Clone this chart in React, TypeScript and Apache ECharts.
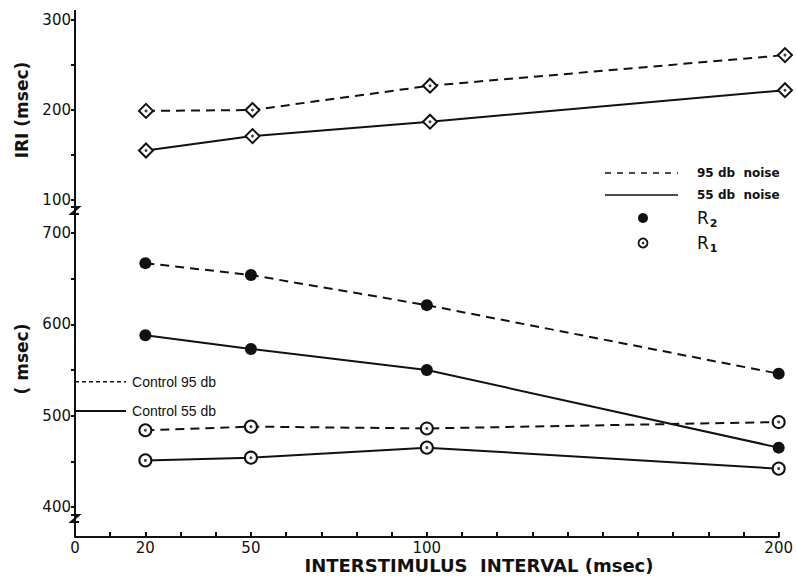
import React, { useEffect, useRef } from "react";
import * as echarts from "echarts";

// ---- data ----
const intervals = [20, 50, 100, 200];
const iri95 = [199, 200, 227, 261];
const iri55 = [155, 171, 187, 222];
const r2Noise95 = [667, 654, 621, 546];
const r2Noise55 = [588, 573, 550, 465];
const r1Noise95 = [484, 488, 486, 493];
const r1Noise55 = [451, 454, 465, 442];
const control95 = 537;
const control55 = 505;
const xTickLabels = [0, 20, 50, 100, 200];
const topTickLabels = [100, 200, 300];
const bottomTickLabels = [400, 500, 600, 700];

const FONT = "DejaVu Sans";
const INK = "#111";

function pts(values: number[]) {
  return intervals.map((x, i) => [x, values[i]]);
}

function dataSeries(
  name: string,
  values: number[],
  dashed: boolean,
  symbol: string,
  filled: boolean,
  grid: number
): any[] {
  const size = symbol === "diamond" ? 14 : 12;
  const out: any[] = [
    {
      name,
      type: "line",
      xAxisIndex: grid,
      yAxisIndex: grid,
      data: pts(values),
      symbol,
      symbolSize: size,
      showAllSymbol: true,
      z: 3,
      lineStyle: { color: INK, width: 2, type: dashed ? [9, 6] : "solid" },
      itemStyle: {
        color: filled ? INK : "#fff",
        borderColor: INK,
        borderWidth: filled ? 0 : 2,
        opacity: 1,
      },
    },
  ];
  if (!filled) {
    out.push({
      name: name + " dot",
      type: "scatter",
      xAxisIndex: grid,
      yAxisIndex: grid,
      data: pts(values),
      symbol: "circle",
      symbolSize: 3,
      z: 4,
      itemStyle: { color: INK },
    });
  }
  return out;
}

function controlSeries(name: string, value: number, dashed: boolean): any {
  return {
    name,
    type: "line",
    xAxisIndex: 1,
    yAxisIndex: 1,
    data: [
      [0, value],
      [14.5, value],
    ],
    symbol: "none",
    z: 2,
    lineStyle: { color: INK, width: dashed ? 1.5 : 2, type: dashed ? [4, 3] : "solid" },
    endLabel: {
      show: true,
      formatter: name,
      distance: 6,
      color: INK,
      fontFamily: "Liberation Sans",
      fontSize: 14,
    },
  };
}

export default function App() {
  const ref = useRef<HTMLDivElement>(null);
  useEffect(() => {
    if (!ref.current) return;
    const chart = echarts.init(ref.current, null, { renderer: "svg" });
    const axisLabelStyle = { color: INK, fontFamily: FONT, fontSize: 15 };
    const option: any = {
      animation: false,
      backgroundColor: "#fff",
      title: {
        text: "INTERSTIMULUS  INTERVAL (msec)",
        left: 479,
        top: 556,
        padding: 0,
        textAlign: "center",
        textStyle: {
          color: INK,
          fontFamily: FONT,
          fontWeight: "bold",
          fontSize: 18,
          lineHeight: 19,
        },
      },
      grid: [
        { left: 75, width: 710, top: 20, height: 180 },
        { left: 75, width: 710, top: 233, height: 274 },
      ],
      xAxis: [
        { gridIndex: 0, type: "value", min: 0, max: 200, show: false },
        {
          gridIndex: 1,
          type: "value",
          min: 0,
          max: 200,
          interval: 10,
          offset: 30,
          splitLine: { show: false },
          axisLine: { show: true, lineStyle: { color: INK, width: 2 } },
          axisTick: { show: true, inside: true, length: 5, lineStyle: { color: INK, width: 2 } },
          axisLabel: {
            ...axisLabelStyle,
            margin: 3,
            formatter: (v: number) => (xTickLabels.includes(v) ? String(v) : ""),
          },
        },
      ],
      yAxis: [
        {
          gridIndex: 0,
          type: "value",
          min: 100,
          max: 300,
          interval: 50,
          splitLine: { show: false },
          axisLine: { show: false },
          axisTick: { show: true, length: 4, lineStyle: { color: INK, width: 2 } },
          axisLabel: {
            ...axisLabelStyle,
            margin: 4,
            formatter: (v: number) => (topTickLabels.includes(v) ? String(v) : ""),
          },
          name: "IRI (msec)",
          nameLocation: "middle",
          nameRotate: 90,
          nameGap: 45,
          nameTextStyle: { color: INK, fontFamily: FONT, fontWeight: "bold", fontSize: 17 },
        },
        {
          gridIndex: 1,
          type: "value",
          min: 400,
          max: 700,
          interval: 50,
          splitLine: { show: false },
          axisLine: { show: false },
          axisTick: { show: true, length: 4, lineStyle: { color: INK, width: 2 } },
          axisLabel: {
            ...axisLabelStyle,
            margin: 4,
            formatter: (v: number) => (bottomTickLabels.includes(v) ? String(v) : ""),
          },
          name: "( msec)",
          nameLocation: "middle",
          nameRotate: 90,
          nameGap: 45,
          nameTextStyle: {
            color: INK,
            fontFamily: FONT,
            fontWeight: "bold",
            fontSize: 17,
            padding: [0, 0, 0, 22],
          },
        },
      ],
      series: [
        ...dataSeries("IRI 95 db", iri95, true, "diamond", false, 0),
        ...dataSeries("IRI 55 db", iri55, false, "diamond", false, 0),
        ...dataSeries("R2 95 db", r2Noise95, true, "circle", true, 1),
        ...dataSeries("R2 55 db", r2Noise55, false, "circle", true, 1),
        ...dataSeries("R1 95 db", r1Noise95, true, "circle", false, 1),
        ...dataSeries("R1 55 db", r1Noise55, false, "circle", false, 1),
        controlSeries("Control 95 db", control95, true),
        controlSeries("Control 55 db", control55, false),
      ],
    };
    chart.setOption(option);

    // decorations derived from the axes' own coordinates
    const top = chart.convertToPixel({ gridIndex: 0 }, [0, 300]) as number[];
    const topLow = chart.convertToPixel({ gridIndex: 0 }, [0, 100]) as number[];
    const botLow = chart.convertToPixel({ gridIndex: 1 }, [0, 400]) as number[];
    const ax = top[0];
    const axisBottom = botLow[1] + 30;
    const z = (y: number) => ({
      type: "polyline",
      shape: {
        points: [
          [ax - 4, y],
          [ax + 4, y],
          [ax - 4, y + 7],
          [ax + 4, y + 7],
        ],
      },
      style: { stroke: INK, lineWidth: 2, fill: null },
      z: 10,
    });
    const lx = 605;
    const tx = 697;
    const legendText = (y: number, text: string) => ({
      type: "text",
      x: tx,
      y,
      style: {
        text,
        fill: INK,
        font: `bold 12px "${FONT}"`,
        verticalAlign: "middle",
      },
    });
    const rText = (y: number, sub: string) => ({
      type: "text",
      x: tx,
      y,
      style: {
        text: `{r|R}{s|${sub}}`,
        verticalAlign: "middle",
        rich: {
          r: { fontFamily: FONT, fontSize: 17, fill: INK, color: INK },
          s: { fontFamily: FONT, fontSize: 11, fontWeight: "bold", fill: INK, color: INK, padding: [10, 0, 0, 1] },
        },
      },
    });
    chart.setOption({
      graphic: [
        {
          type: "line",
          shape: { x1: ax, y1: top[1] - 10, x2: ax, y2: axisBottom },
          style: { stroke: INK, lineWidth: 2 },
          z: 9,
        },
        z(topLow[1] + 7),
        z(botLow[1] + 8),
        {
          type: "line",
          shape: { x1: lx, y1: 173, x2: lx + 73, y2: 173 },
          style: { stroke: INK, lineWidth: 1.5, lineDash: [6, 6] },
        },
        legendText(173, "95 db  noise"),
        {
          type: "line",
          shape: { x1: lx, y1: 195, x2: lx + 73, y2: 195 },
          style: { stroke: INK, lineWidth: 1.5 },
        },
        legendText(195, "55 db  noise"),
        { type: "circle", shape: { cx: 643, cy: 218, r: 5 }, style: { fill: INK } },
        rText(218, "2"),
        {
          type: "circle",
          shape: { cx: 643, cy: 243, r: 4.5 },
          style: { fill: "#fff", stroke: INK, lineWidth: 1.8 },
        },
        { type: "circle", shape: { cx: 643, cy: 243, r: 1.2 }, style: { fill: INK } },
        rText(243, "1"),
      ],
    });
    return () => chart.dispose();
  }, []);
  return <div ref={ref} style={{ width: 796, height: 576, position: "absolute", left: 0, top: 0 }} />;
}
